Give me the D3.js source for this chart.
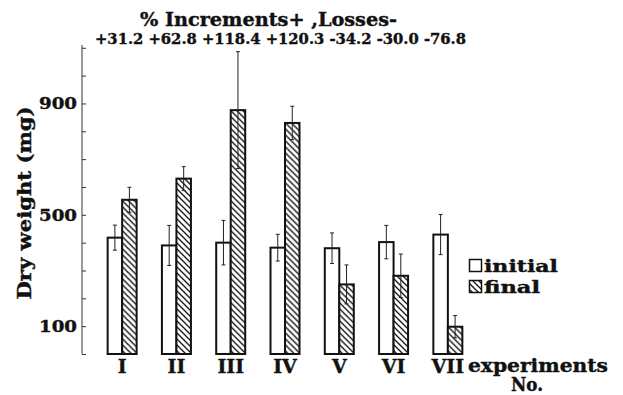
<!DOCTYPE html>
<html><head><meta charset="utf-8">
<script src="https://cdn.jsdelivr.net/npm/d3@7"></script>
<style>body{margin:0;background:#fff}svg{display:block}text{font-family:"DejaVu Serif",serif;font-weight:bold;fill:#111;stroke:#111;stroke-width:0.4px}</style>
</head><body>
<svg id="c" width="623" height="395"></svg>
<script>
const experiments = ["I","II","III","IV","V","VI","VII"];
const initialValues = [418, 390, 400, 382, 380, 402, 429];
const finalValues   = [554, 630, 876, 830, 250, 281, 98];
const initialErr = [45, 72, 80, 48, 55, 60, 72];
const finalErr   = [45, 43, 210, 60, 70, 78, 40];
const percentLabels = ["+31.2","+62.8","+118.4","+120.3","-34.2","-30.0","-76.8"];
const yTickValues = [0,100,200,300,400,500,600,700,800,900,1000,1100];
const yTickLabels = [100, 500, 900];
const seriesNames = ["initial","final"];

const svg = d3.select("#c");
const defs = svg.append("defs");
const pat = defs.append("pattern").attr("id","hatch").attr("patternUnits","userSpaceOnUse")
  .attr("width",6).attr("height",6);
pat.append("rect").attr("width",6).attr("height",6).attr("fill","#fff");
pat.append("path").attr("d","M0,0L6,6M-3,3L3,9M3,-3L9,3").attr("stroke","#111").attr("stroke-width",1.3);

const y = d3.scaleLinear().domain([0,1110]).range([354,45]);
const x = d3.scaleBand().domain(experiments).range([95,475]).paddingInner(0).paddingOuter(0);
const sub = d3.scaleBand().domain(seriesNames).range([0,29]);
const groupOff = (x.bandwidth()-29)/2;

// y axis
const axis = d3.axisRight(y).tickValues(yTickValues).tickSize(4).tickFormat("");
const ag = svg.append("g").attr("transform","translate(82,0)").call(axis);
ag.select(".domain").attr("stroke","#333").attr("stroke-width",1).attr("d","M0,45V354");
ag.selectAll(".tick line").attr("stroke","#333");
svg.append("g").selectAll("text").data(yTickLabels).join("text")
  .attr("x",39).attr("y",d=>y(d)+6).attr("font-size",17)
  .attr("textLength",38).attr("lengthAdjust","spacingAndGlyphs").text(d=>d);

// y label
svg.append("text").attr("transform","translate(31,203) rotate(-90)").attr("x",-96.5)
  .attr("font-size",18).attr("textLength",193).attr("lengthAdjust","spacingAndGlyphs").text("Dry weight (mg)");

// bars
const groups = svg.append("g").selectAll("g").data(experiments).join("g")
  .attr("transform",d=>`translate(${x(d)+groupOff},0)`);
groups.each(function(d,i){
  const g = d3.select(this);
  const vals = [initialValues[i], finalValues[i]];
  const errs = [initialErr[i], finalErr[i]];
  seriesNames.forEach((s,j)=>{
    const bx = sub(s), bw = sub.bandwidth();
    g.append("rect").attr("x",bx).attr("y",y(vals[j])).attr("width",bw).attr("height",y(0)-y(vals[j]))
      .attr("fill", j===0 ? "#fff" : "url(#hatch)").attr("stroke","#111").attr("stroke-width",2);
  });
  seriesNames.forEach((s,j)=>{
    const cx = sub(s)+sub.bandwidth()/2;
    const hi = y(vals[j]+errs[j]), lo = y(vals[j]-errs[j]);
    g.append("line").attr("x1",cx).attr("x2",cx).attr("y1",hi).attr("y2",lo).attr("stroke","#222").attr("stroke-width",1);
    [hi,lo].forEach(yy=>g.append("line").attr("x1",cx-2).attr("x2",cx+2).attr("y1",yy).attr("y2",yy).attr("stroke","#222").attr("stroke-width",1));
  });
});

// x labels
svg.append("g").selectAll("text").data(experiments).join("text")
  .attr("x",d=>x(d)+x.bandwidth()/2).attr("y",373).attr("text-anchor","middle").attr("font-size",19).text(d=>d);
svg.append("text").attr("x",468).attr("y",372).attr("font-size",18)
  .attr("textLength",140).attr("lengthAdjust","spacingAndGlyphs").text("experiments");
svg.append("text").attr("x",511).attr("y",391).attr("font-size",18)
  .attr("textLength",32).attr("lengthAdjust","spacingAndGlyphs").text("No.");

// title
svg.append("text").attr("x",140).attr("y",26).attr("font-size",18)
  .attr("textLength",257).attr("lengthAdjust","spacingAndGlyphs").text("% Increments+ ,Losses-");
svg.append("text").attr("x",95).attr("y",44).attr("font-size",15)
  .attr("textLength",371).attr("lengthAdjust","spacingAndGlyphs").text(percentLabels.join(" "));

// legend
const lg = svg.append("g").attr("transform","translate(469,259)");
const legendLen = [74, 56];
seriesNames.forEach((s,j)=>{
  lg.append("rect").attr("x",0.5).attr("y",j*21+0.5).attr("width",12).attr("height",12)
    .attr("fill", j===0 ? "#fff" : "url(#hatch)").attr("stroke","#111").attr("stroke-width",1.5);
  lg.append("text").attr("x",15).attr("y",j*21+13).attr("font-size",17)
    .attr("textLength",legendLen[j]).attr("lengthAdjust","spacingAndGlyphs").text(s);
});
</script>
</body></html>
